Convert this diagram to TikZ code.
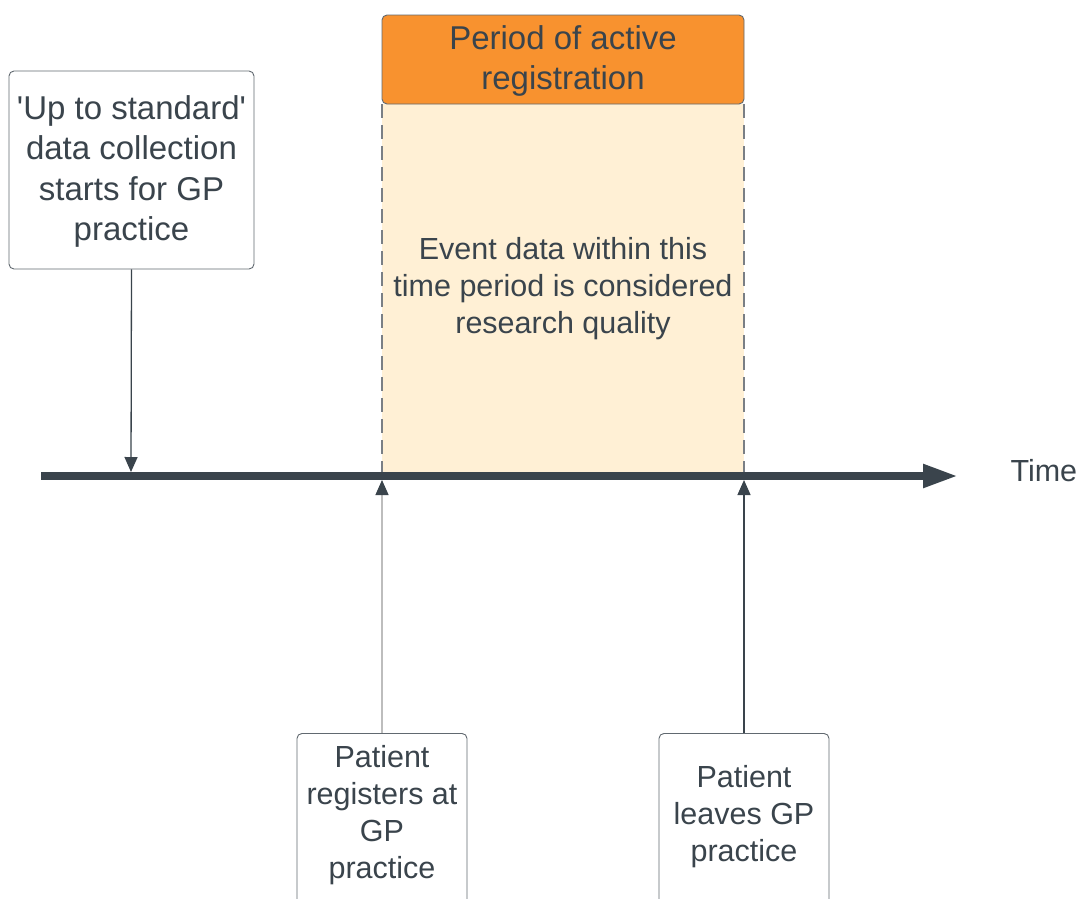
\documentclass[tikz,border=0pt]{standalone}
\usepackage{fontspec}
\setmainfont{Liberation Sans}
\usetikzlibrary{arrows.meta}
\definecolor{ink}{HTML}{3A444C}
\definecolor{orangebox}{HTML}{F8922F}
\definecolor{paleband}{HTML}{FFF0D5}
\definecolor{edgegray}{HTML}{7A7F85}
\definecolor{thingray}{HTML}{BDBDBD}
\tikzset{
  txt/.style={font=\fontsize{30.5}{38}\selectfont, text=ink, align=center},
  card/.style={draw=ink!80, line width=0.9pt, rounded corners=5pt, fill=white},
  pointer/.style={draw=ink, line width=1.3pt, -{Triangle[length=15pt,width=13pt]}},
}
\begin{document}
\begin{tikzpicture}[x=1pt,y=-1pt]
\useasboundingbox (0,0) rectangle (1081,898);
\clip (0,0) rectangle (1081,898);
\fill[white] (0,0) rectangle (1081,898);
% pale band
\fill[paleband] (382,104) rectangle (744,477);
\draw[edgegray, line width=1.2pt, dash pattern=on 14pt off 7pt] (382,104) -- (382,477);
\draw[edgegray, line width=1.2pt, dash pattern=on 14pt off 7pt] (744,104) -- (744,477);
% orange header
\node[draw=ink!80, line width=0.9pt, rounded corners=5pt, fill=orangebox, minimum width=362pt, minimum height=89pt, inner sep=0pt] (head) at (563,59.5) {};
\node[txt, font=\fontsize{33}{40}\selectfont] (headtxt) at (563,61) {Period of active\\registration};
% band text
\node[txt, font=\fontsize{30.5}{37}\selectfont] (band) at (563,289) {Event data within this\\time period is considered\\research quality};
% timeline
\coordinate (tstart) at (41,476);
\coordinate (tend) at (958,476);
\draw[ink, line width=8pt, -{Triangle[length=35pt,width=22pt]}] (tstart) -- (tend);
\node[txt, anchor=west] (time) at (1007,471) {Time};
% timeline points
\coordinate (p1) at (131,472);
\coordinate (p2) at (382,480);
\coordinate (p3) at (744,480);
% left card
\node[card, minimum width=245pt, minimum height=198pt, inner sep=0pt] (std) at (131.5,170) {};
\node[txt, font=\fontsize{33}{40.3}\selectfont] (stdtxt) at (131.5,171.5) {\textquotesingle Up to standard\textquotesingle\\data collection\\starts for GP\\practice};
\draw[pointer] (std.south) -- (p1);
% bottom cards
\node[card, minimum width=170pt, minimum height=200pt, inner sep=0pt, anchor=north] (reg) at (382,733) {};
\node[txt, font=\fontsize{30.5}{37}\selectfont, anchor=north] (regtxt) at (382,742) {Patient\\registers at\\GP\\practice};
\node[card, minimum width=170pt, minimum height=200pt, inner sep=0pt, anchor=north] (leave) at (744,733) {};
\node[txt, font=\fontsize{30.5}{37}\selectfont, anchor=north] (leavetxt) at (744,762) {Patient\\leaves GP\\practice};
\draw[draw=thingray, line width=1.3pt, -{Triangle[length=15pt,width=13pt,color=ink]}] (reg.north) -- (p2);
\draw[pointer] (leave.north) -- (p3);
\end{tikzpicture}
\end{document}
